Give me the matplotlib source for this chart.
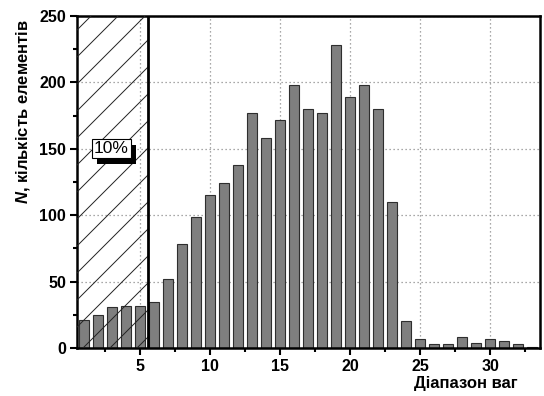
#Histogram of element counts by weight range, with hatched 10% zone

import numpy as np
from matplotlib import pyplot as plt
from matplotlib.patches import Rectangle
from matplotlib import patheffects
from matplotlib.ticker import MultipleLocator

##values##
weight_range = [1, 2, 3, 4, 5, 6, 7, 8, 9, 10, 11, 12, 13, 14, 15, 16, 17,
                18, 19, 20, 21, 22, 23, 24, 25, 26, 27, 28, 29, 30, 31, 32, 33]
counts = [21, 25, 31, 32, 32, 35, 52, 78, 99, 115, 124, 138, 177, 158, 172, 198, 180,
          177, 228, 189, 198, 180, 110, 20, 7, 3, 3, 8, 4, 7, 5, 3, 1]
cut_x = 5.57            #border of the 10% zone
zone_label = "10%"
x_label = "Діапазон ваг"
y_label = "$N$, кількість елементів"

plt.rcParams['font.family'] = ['Liberation Sans', 'DejaVu Sans']
plt.rcParams['font.weight'] = 'bold'
plt.rcParams['mathtext.fontset'] = 'custom'
plt.rcParams['mathtext.it'] = 'Liberation Sans:italic:bold'
plt.rcParams['mathtext.rm'] = 'Liberation Sans:bold'

W, H = 544, 396
fig = plt.figure(figsize=(W/100, H/100), dpi=100)
ax_l, ax_r, ax_t, ax_b = 77, 540, 16, 348          #axes box in pixels
ax = fig.add_axes([ax_l/W, 1 - ax_b/H, (ax_r-ax_l)/W, (ax_b-ax_t)/H])

xmin, xmax, ymin, ymax = 0.5, 33.57, 0, 250
ax.set_xlim(xmin, xmax)
ax.set_ylim(ymin, ymax)

#bars
ax.bar(weight_range, counts, width=0.66, color='#7f7f7f', edgecolor='#2e2e2e',
       linewidth=0.8, zorder=2)

#grid
ax.grid(True, which='major', color='#8c8c8c', linestyle=(0, (1, 2.2)), linewidth=0.9, zorder=0)
ax.set_axisbelow(True)

#hatched zone: diagonal lines at 45 deg on screen
px_x = (ax_r-ax_l)/(xmax-xmin)
px_y = (ax_b-ax_t)/(ymax-ymin)
slope = px_x/px_y
step = 27/px_x
clip = Rectangle((xmin, ymin), cut_x-xmin, ymax-ymin, transform=ax.transData,
                 facecolor='none', edgecolor='none')
ax.add_patch(clip)
for k in range(-12, 4):
    x0 = 0.93 + step*k
    line, = ax.plot([x0, x0 + ymax/slope], [0, ymax], color='#222222', lw=0.7, zorder=3)
    line.set_clip_path(clip)

ax.axvline(cut_x, color='black', lw=2, zorder=4)

#10% box with shadow
t = ax.text(2.93, 150, zone_label, fontsize=12.5, fontweight='normal', ha='center', va='center',
            zorder=6, bbox=dict(boxstyle='square,pad=0.12', facecolor='white',
                                edgecolor='black', linewidth=0.8))
t.get_bbox_patch().set_path_effects([
    patheffects.withSimplePatchShadow(offset=(4, -4), shadow_rgbFace='black', alpha=1)])

#axes styling
for s in ax.spines.values():
    s.set_linewidth(1.8)
ax.xaxis.set_major_locator(MultipleLocator(5))
ax.xaxis.set_minor_locator(MultipleLocator(2.5))
ax.yaxis.set_major_locator(MultipleLocator(50))
ax.yaxis.set_minor_locator(MultipleLocator(25))
ax.tick_params(axis='both', which='major', direction='out', length=5, width=1.5,
               labelsize=11.5, pad=3)
ax.tick_params(axis='both', which='minor', direction='out', length=3, width=1.5)
ax.tick_params(top=False, right=False)
plt.setp(ax.get_xticklabels() + ax.get_yticklabels(), fontweight='bold')

ax.set_xlabel(x_label, fontsize=12, fontweight='bold', labelpad=2)
ax.xaxis.set_label_coords(0.84, -0.085)
ax.set_ylabel(y_label, fontsize=12, fontweight='bold')
ax.yaxis.set_label_coords(-0.098, 0.712)

fig.savefig("out.png", dpi=100)
